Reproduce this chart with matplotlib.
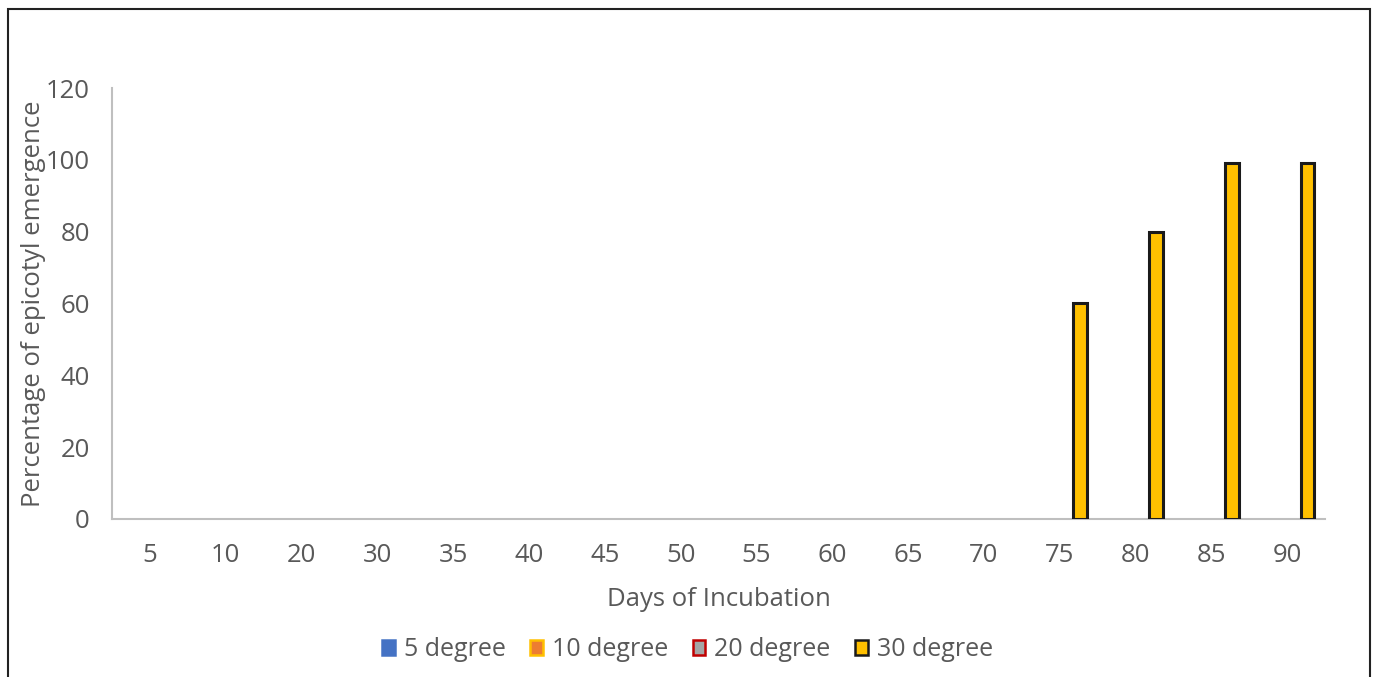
import numpy as np
import matplotlib
matplotlib.use('Agg')
import matplotlib.pyplot as plt
from matplotlib.patches import Patch, Rectangle

plt.rcParams['font.family'] = ['Open Sans', 'DejaVu Sans']

days = ['5', '10', '20', '30', '35', '40', '45', '50', '55', '60', '65', '70', '75', '80', '85', '90']
deg5 = [0, 0, 0, 0, 0, 0, 0, 0, 0, 0, 0, 0, 0, 0, 0, 0]
deg10 = [0, 0, 0, 0, 0, 0, 0, 0, 0, 0, 0, 0, 0, 0, 0, 0]
deg20 = [0, 0, 0, 0, 0, 0, 0, 0, 0, 0, 0, 0, 0, 0, 0, 0]
deg30 = [0, 0, 0, 0, 0, 0, 0, 0, 0, 0, 0, 0, 60, 80, 99, 99]

series = [
    ('5 degree', deg5, '#4472C4', '#4472C4'),
    ('10 degree', deg10, '#ED7D31', '#FFC000'),
    ('20 degree', deg20, '#A5A5A5', '#C00000'),
    ('30 degree', deg30, '#FFC000', '#1A1A1A'),
]

txt = '#595959'
fs = 18.5
fig = plt.figure(figsize=(13.75, 6.77), dpi=100)
ax = fig.add_axes([0.0815, 0.2334, 0.8821, 0.6366])

x = np.arange(len(days))
w = 0.18
handles = []
for i, (name, vals, fc, ec) in enumerate(series):
    v = np.array(vals, dtype=float)
    m = v > 0
    ax.bar(x[m] + (i - 1.5) * w, v[m], width=w, color=fc, edgecolor=ec, linewidth=2.2, zorder=3)
    handles.append(Patch(facecolor=fc, edgecolor=ec, linewidth=1.8, label=name))

ax.set_xlim(-0.5, len(days) - 0.5)
ax.set_ylim(0, 120)
ax.set_yticks([0, 20, 40, 60, 80, 100, 120])
ax.set_xticks(x)
ax.set_xticklabels(days)
ax.tick_params(length=0, labelsize=fs, colors=txt)
ax.tick_params(axis='x', pad=17)
ax.tick_params(axis='y', pad=16)
for s in ['top', 'right']:
    ax.spines[s].set_visible(False)
for s in ['left', 'bottom']:
    ax.spines[s].set_color('#BFBFBF')
    ax.spines[s].set_linewidth(1.5)

ax.set_xlabel('Days of Incubation', fontsize=fs, color=txt, labelpad=14)
ax.set_ylabel('Percentage of epicotyl emergence', fontsize=fs, color=txt)
ax.yaxis.set_label_coords(-0.0545, 0.5)

fig.legend(handles=handles, loc='center', bbox_to_anchor=(0.5, 0.04), ncol=4, frameon=False,
           fontsize=18, handlelength=0.5, handleheight=0.5, handletextpad=0.35, columnspacing=1.0,
           labelcolor=txt)

fig.patches.append(Rectangle((0.006, -0.1), 0.99, 1.087, transform=fig.transFigure,
                             fill=False, edgecolor='#222222', linewidth=1.5))

fig.savefig('out.png', dpi=100, facecolor='white')
